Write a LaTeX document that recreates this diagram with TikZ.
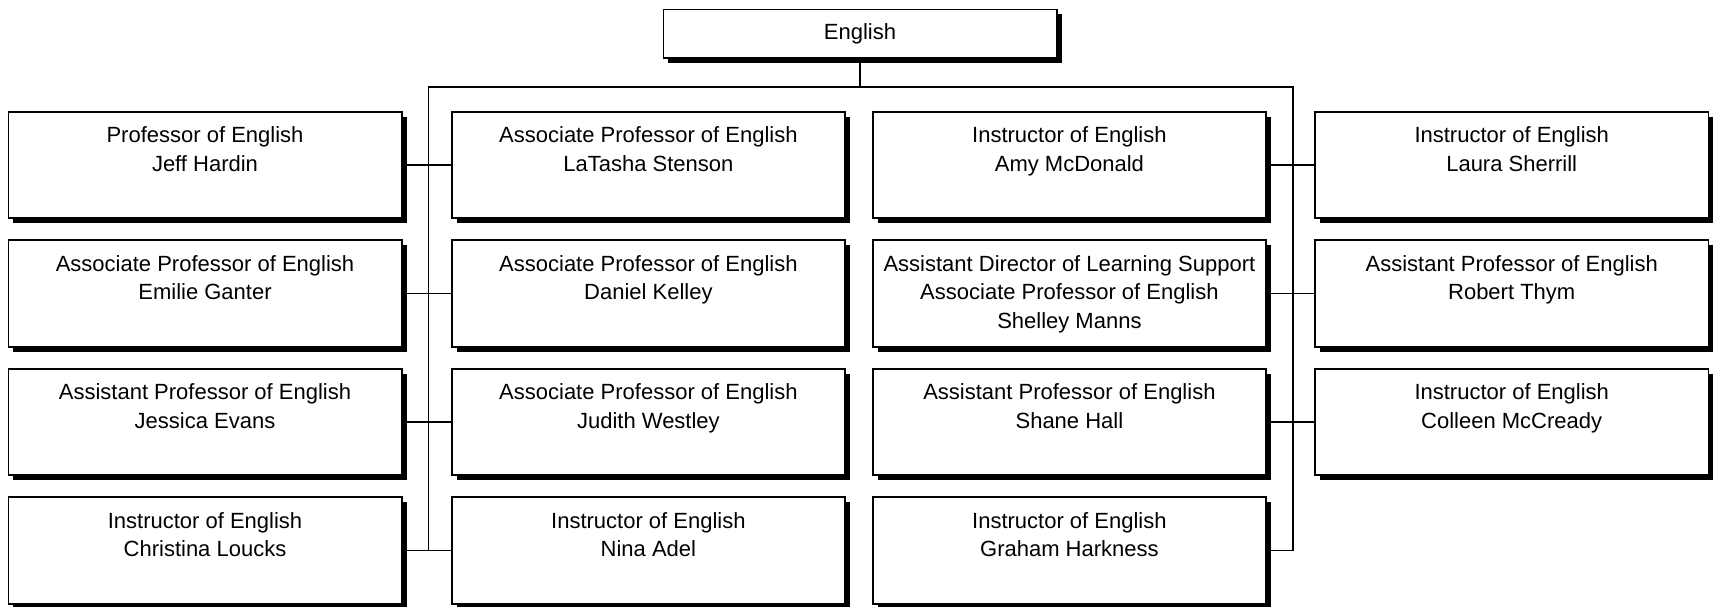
\documentclass[tikz,border=0pt]{standalone}
\usepackage{fontspec}
\setmainfont{Liberation Sans}
\usetikzlibrary{shadows}
\begin{document}
\begin{tikzpicture}[x=0.5pt,y=-0.5pt,
  conn/.style={line width=0.8pt},
  box/.style={draw, line width=0.8pt, fill=white, inner sep=0pt,
    minimum width=196.7pt, minimum height=53.25pt,
    drop shadow={shadow xshift=2.5pt, shadow yshift=-2.5pt, fill=black, opacity=1}},
  topbox/.style={box, minimum height=24.35pt, font=\fontsize{11}{14.2}\selectfont},
  txt/.style={anchor=north, inner sep=0pt, align=center, font=\fontsize{11}{14.2}\selectfont}
]
\useasboundingbox (0,0) rectangle (1717,606);
% bus coordinates
\coordinate (busL) at (428.3,86.7);
\coordinate (busR) at (1292.7,86.7);

% boxes
\node[topbox] (eng) at (860,33.65) {English};

\node[box] (a1) at (205,165) {};
\node[box] (a2) at (205,293.5) {};
\node[box] (a3) at (205,422) {};
\node[box] (a4) at (205,550.5) {};
\node[box] (b1) at (648.4,165) {};
\node[box] (b2) at (648.4,293.5) {};
\node[box] (b3) at (648.4,422) {};
\node[box] (b4) at (648.4,550.5) {};
\node[box] (c1) at (1069.4,165) {};
\node[box] (c2) at (1069.4,293.5) {};
\node[box] (c3) at (1069.4,422) {};
\node[box] (c4) at (1069.4,550.5) {};
\node[box] (d1) at (1511.7,165) {};
\node[box] (d2) at (1511.7,293.5) {};
\node[box] (d3) at (1511.7,422) {};

% connectors
\draw[conn] (eng.south) -- (eng.south |- busL);
\draw[conn] (busL |- a4.east) -- (busL) -- (busR) -- (busR |- c4.east);
\draw[conn] (a1.east) -- (b1.west);
\draw[conn] (a2.east) -- (b2.west);
\draw[conn] (a3.east) -- (b3.west);
\draw[conn] (a4.east) -- (b4.west);
\draw[conn] (c1.east) -- (d1.west);
\draw[conn] (c2.east) -- (d2.west);
\draw[conn] (c3.east) -- (d3.west);
\draw[conn] (c4.east) -- (busR |- c4.east);

% texts
\node[txt] (ta1) at ([yshift=-7.8pt]a1.north) {Professor of English\\Jeff Hardin};
\node[txt] (ta2) at ([yshift=-7.8pt]a2.north) {Associate Professor of English\\Emilie Ganter};
\node[txt] (ta3) at ([yshift=-7.8pt]a3.north) {Assistant Professor of English\\Jessica Evans};
\node[txt] (ta4) at ([yshift=-7.8pt]a4.north) {Instructor of English\\Christina Loucks};
\node[txt] (tb1) at ([yshift=-7.8pt]b1.north) {Associate Professor of English\\LaTasha Stenson};
\node[txt] (tb2) at ([yshift=-7.8pt]b2.north) {Associate Professor of English\\Daniel Kelley};
\node[txt] (tb3) at ([yshift=-7.8pt]b3.north) {Associate Professor of English\\Judith Westley};
\node[txt] (tb4) at ([yshift=-7.8pt]b4.north) {Instructor of English\\Nina Adel};
\node[txt] (tc1) at ([yshift=-7.8pt]c1.north) {Instructor of English\\Amy McDonald};
\node[txt] (tc2) at ([yshift=-7.8pt]c2.north) {Assistant Director of Learning Support\\Associate Professor of English\\Shelley Manns};
\node[txt] (tc3) at ([yshift=-7.8pt]c3.north) {Assistant Professor of English\\Shane Hall};
\node[txt] (tc4) at ([yshift=-7.8pt]c4.north) {Instructor of English\\Graham Harkness};
\node[txt] (td1) at ([yshift=-7.8pt]d1.north) {Instructor of English\\Laura Sherrill};
\node[txt] (td2) at ([yshift=-7.8pt]d2.north) {Assistant Professor of English\\Robert Thym};
\node[txt] (td3) at ([yshift=-7.8pt]d3.north) {Instructor of English\\Colleen McCready};
\end{tikzpicture}
\end{document}
